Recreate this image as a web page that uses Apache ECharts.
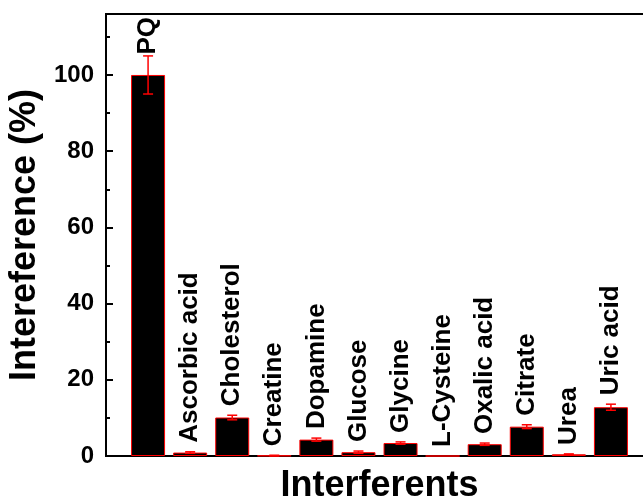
<!DOCTYPE html>
<html>
<head>
<meta charset="utf-8">
<script src="https://cdn.jsdelivr.net/npm/echarts@6/dist/echarts.min.js"></script>
<style>
html,body{margin:0;padding:0;background:#fff;}
#chart{width:643px;height:503px;}
</style>
</head>
<body>
<div id="chart"></div>
<script>
const categories = ['PQ','Ascorbic acid','Cholesterol','Creatine','Dopamine','Glucose','Glycine','L-Cysteine','Oxalic acid','Citrate','Urea','Uric acid'];
const values = [100, 0.9, 10.1, 0.1, 4.3, 1.0, 3.4, 0, 3.1, 7.7, 0.45, 12.8];
const errors = [5, 0.2, 0.6, 0.1, 0.4, 0.3, 0.3, 0, 0.3, 0.5, 0.1, 0.8];
const yTicks = [0, 20, 40, 60, 80, 100];

const FONT = '"Liberation Sans", Arial, sans-serif';
const LABEL_FONT = 'bold 26px ' + FONT;
const GRID_TOP = 14;
const chart = echarts.init(document.getElementById('chart'), null, {renderer: 'canvas'});

const measureCtx = document.createElement('canvas').getContext('2d');
measureCtx.font = LABEL_FONT;
function textLen(t) { return measureCtx.measureText(t).width; }

const barData = values.map((v, i) => [i + 1, v]);
const errData = values.map((v, i) => [i + 1, v, errors[i]]);

function renderErr(params, api) {
  const x = api.value(0), v = api.value(1), e = api.value(2), name = categories[params.dataIndex];
  const top = api.coord([x, v + e]);
  const bot = api.coord([x, Math.max(0, v - e)]);
  const cap = 5;
  const children = [];
  const lineStyle = {stroke: '#ff0000', lineWidth: 1.5};
  if (e > 0) {
    children.push({type: 'line', shape: {x1: top[0], y1: top[1], x2: bot[0], y2: bot[1]}, style: lineStyle});
    children.push({type: 'line', shape: {x1: top[0] - cap, y1: top[1], x2: top[0] + cap, y2: top[1]}, style: lineStyle});
    children.push({type: 'line', shape: {x1: bot[0] - cap, y1: bot[1], x2: bot[0] + cap, y2: bot[1]}, style: lineStyle});
  }
  // keep the label inside the frame
  const ly = Math.max(top[1] - 9, GRID_TOP + textLen(name) + 3);
  children.push({
    type: 'text', x: top[0], y: ly, rotation: Math.PI / 2,
    style: {text: name, fill: '#000', font: LABEL_FONT, align: 'left', verticalAlign: 'middle'}
  });
  return {type: 'group', children: children};
}

const option = {
  backgroundColor: '#fff',
  animation: false,
  grid: {left: 106, top: GRID_TOP, width: 547, height: 442, show: true, borderColor: '#000', borderWidth: 2,
         backgroundColor: 'transparent', containLabel: false, outerBoundsMode: 'none'},
  xAxis: {
    type: 'value', min: 0, max: 13,
    name: 'Interferents', nameLocation: 'middle', nameGap: 12,
    nameTextStyle: {fontFamily: FONT, fontWeight: 'bold', fontSize: 36, color: '#000'},
    axisLine: {show: true, lineStyle: {color: '#000', width: 2}},
    axisTick: {show: false}, axisLabel: {show: false}, splitLine: {show: false}
  },
  yAxis: [{
    type: 'value', min: 0, max: 116, interval: 20,
    name: 'Intereference (%)', nameLocation: 'middle', nameGap: 60,
    nameTextStyle: {fontFamily: FONT, fontWeight: 'bold', fontSize: 36, color: '#000'},
    axisLine: {show: true, lineStyle: {color: '#000', width: 2}},
    axisTick: {show: true, inside: true, length: 7, lineStyle: {color: '#000', width: 2}},
    axisLabel: {
      margin: 12, fontFamily: FONT, fontWeight: 'bold', fontSize: 24, color: '#000',
      showMaxLabel: false,
      formatter: v => (yTicks.indexOf(v) >= 0 ? String(v) : '')
    },
    splitLine: {show: false}
  }, {
    type: 'value', min: 0, max: 116, interval: 10, position: 'left', offset: 0,
    axisLine: {show: false},
    axisTick: {show: true, inside: true, length: 4, lineStyle: {color: '#000', width: 2}},
    axisLabel: {show: false}, splitLine: {show: false}
  }],
  series: [{
    type: 'bar', data: barData, barWidth: 34, yAxisIndex: 0,
    itemStyle: {color: '#000', borderColor: '#ff0000', borderWidth: 1}
  }, {
    type: 'custom', data: errData, renderItem: renderErr, yAxisIndex: 0, z: 5, clip: false
  }]
};
chart.setOption(option);
</script>
</body>
</html>
